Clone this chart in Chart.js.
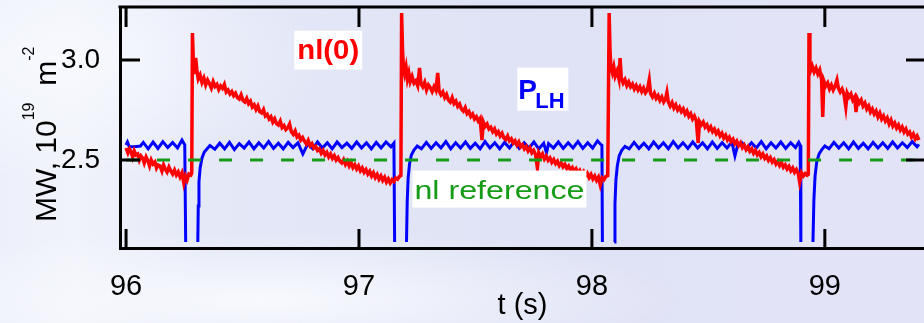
<!DOCTYPE html>
<html>
<head>
<meta charset="utf-8">
<script src="https://cdn.jsdelivr.net/npm/chart.js@4"></script>
<style>
    html, body {
        margin: 0;
        padding: 0;
        width: 924px;
        height: 323px;
        overflow: hidden;
    }
    body {
        background:
            radial-gradient(ellipse 260px 120px at 60px 60px, rgba(248, 250, 255, 0.85), rgba(248, 250, 255, 0)),
            radial-gradient(ellipse 420px 70px at 260px 300px, rgba(250, 251, 255, 0.9), rgba(250, 251, 255, 0)),
            linear-gradient(90deg, #edf0fa 0%, #f1f3fb 8%, #e4e8f7 22%, #dfe3f5 55%, #e3e3f7 100%);
    }
    #wrap {
        position: absolute;
        left: 0;
        top: 0;
        width: 930px;
        height: 323px;
    }
</style>
</head>
<body>
<div id="wrap"><canvas id="chart" width="930" height="323"></canvas></div>
<script>
// Tick positions on the axes.
const xTicks = [96, 97, 98, 99];
const yTicks = [2.5, 3.0];

// nl(0) central density trace, [t (s), 10^19 m^-2].
const nlTrace = [
    [96.000, 2.560], [96.008, 2.535], [96.015, 2.555], [96.022, 2.540], [96.028, 2.515], [96.035, 2.545],
    [96.042, 2.525], [96.050, 2.530], [96.057, 2.500], [96.064, 2.520], [96.071, 2.510], [96.078, 2.485],
    [96.086, 2.515], [96.094, 2.495], [96.101, 2.470], [96.108, 2.500], [96.116, 2.480], [96.124, 2.490],
    [96.131, 2.460], [96.138, 2.475], [96.146, 2.470], [96.154, 2.445], [96.161, 2.475], [96.168, 2.455],
    [96.176, 2.440], [96.184, 2.465], [96.192, 2.445], [96.200, 2.430], [96.208, 2.450], [96.216, 2.425],
    [96.224, 2.440], [96.232, 2.415], [96.240, 2.435], [96.248, 2.385], [96.255, 2.420], [96.262, 2.400],
    [96.270, 2.430], [96.278, 2.425], [96.282, 2.435], [96.285, 3.135], [96.289, 2.990], [96.294, 2.930],
    [96.299, 3.010], [96.304, 2.950], [96.310, 2.905], [96.318, 2.925], [96.326, 2.888], [96.334, 2.910],
    [96.342, 2.875], [96.350, 2.900], [96.358, 2.882], [96.366, 2.860], [96.374, 2.892], [96.382, 2.868],
    [96.390, 2.878], [96.398, 2.852], [96.406, 2.870], [96.414, 2.858], [96.422, 2.878], [96.430, 2.840],
    [96.438, 2.850], [96.446, 2.830], [96.454, 2.842], [96.462, 2.822], [96.470, 2.834], [96.478, 2.812],
    [96.486, 2.805], [96.494, 2.826], [96.502, 2.798], [96.510, 2.790], [96.518, 2.808], [96.526, 2.782],
    [96.534, 2.794], [96.542, 2.765], [96.550, 2.776], [96.558, 2.752], [96.566, 2.770], [96.574, 2.742],
    [96.582, 2.735], [96.590, 2.752], [96.598, 2.720], [96.606, 2.728], [96.614, 2.705], [96.622, 2.716],
    [96.630, 2.690], [96.638, 2.706], [96.646, 2.682], [96.654, 2.675], [96.662, 2.694], [96.670, 2.662],
    [96.678, 2.672], [96.686, 2.652], [96.694, 2.660], [96.702, 2.680], [96.710, 2.640], [96.718, 2.628],
    [96.726, 2.645], [96.734, 2.615], [96.742, 2.624], [96.750, 2.600], [96.758, 2.612], [96.766, 2.594],
    [96.774, 2.580], [96.782, 2.598], [96.790, 2.572], [96.798, 2.582], [96.806, 2.560], [96.814, 2.568],
    [96.822, 2.548], [96.830, 2.556], [96.838, 2.534], [96.846, 2.548], [96.854, 2.525], [96.862, 2.538],
    [96.870, 2.515], [96.878, 2.530], [96.886, 2.508], [96.894, 2.522], [96.902, 2.500], [96.910, 2.512],
    [96.918, 2.494], [96.926, 2.485], [96.934, 2.502], [96.942, 2.478], [96.950, 2.494], [96.958, 2.470],
    [96.966, 2.488], [96.974, 2.462], [96.982, 2.476], [96.990, 2.455], [96.998, 2.470], [97.006, 2.446],
    [97.014, 2.460], [97.022, 2.438], [97.030, 2.452], [97.038, 2.430], [97.046, 2.444], [97.054, 2.420],
    [97.062, 2.436], [97.070, 2.412], [97.078, 2.428], [97.086, 2.404], [97.094, 2.420], [97.102, 2.398],
    [97.110, 2.414], [97.118, 2.390], [97.126, 2.405], [97.134, 2.385], [97.142, 2.402], [97.150, 2.392],
    [97.158, 2.410], [97.166, 2.404], [97.174, 2.418], [97.180, 2.422], [97.183, 3.235], [97.187, 3.050],
    [97.191, 2.960], [97.196, 2.930], [97.202, 2.965], [97.208, 2.905], [97.214, 2.935], [97.220, 2.892],
    [97.228, 2.918], [97.236, 2.885], [97.244, 2.896], [97.252, 2.872], [97.260, 2.960], [97.266, 2.882],
    [97.274, 2.866], [97.282, 2.888], [97.290, 2.850], [97.298, 2.875], [97.306, 2.862], [97.314, 2.842],
    [97.322, 2.866], [97.330, 2.848], [97.338, 2.935], [97.344, 2.845], [97.352, 2.826], [97.360, 2.840],
    [97.368, 2.812], [97.376, 2.828], [97.384, 2.800], [97.392, 2.790], [97.400, 2.812], [97.408, 2.782],
    [97.416, 2.794], [97.424, 2.768], [97.432, 2.780], [97.440, 2.755], [97.448, 2.744], [97.456, 2.762],
    [97.464, 2.732], [97.472, 2.742], [97.480, 2.718], [97.488, 2.730], [97.496, 2.705], [97.504, 2.716],
    [97.512, 2.695], [97.520, 2.708], [97.528, 2.600], [97.534, 2.690], [97.542, 2.668], [97.550, 2.680],
    [97.558, 2.655], [97.566, 2.664], [97.574, 2.642], [97.582, 2.656], [97.590, 2.630], [97.598, 2.642],
    [97.606, 2.620], [97.614, 2.634], [97.622, 2.610], [97.630, 2.602], [97.638, 2.620], [97.646, 2.596],
    [97.654, 2.606], [97.662, 2.585], [97.670, 2.596], [97.678, 2.575], [97.686, 2.590], [97.694, 2.566],
    [97.702, 2.576], [97.710, 2.556], [97.718, 2.568], [97.726, 2.545], [97.734, 2.560], [97.742, 2.536],
    [97.750, 2.548], [97.758, 2.528], [97.766, 2.460], [97.772, 2.535], [97.780, 2.515], [97.788, 2.530],
    [97.796, 2.505], [97.804, 2.520], [97.812, 2.498], [97.820, 2.510], [97.828, 2.488], [97.836, 2.502],
    [97.844, 2.482], [97.852, 2.494], [97.860, 2.472], [97.868, 2.486], [97.876, 2.466], [97.884, 2.478],
    [97.892, 2.458], [97.900, 2.470], [97.908, 2.450], [97.916, 2.462], [97.924, 2.442], [97.932, 2.456],
    [97.940, 2.436], [97.948, 2.448], [97.956, 2.428], [97.964, 2.442], [97.972, 2.420], [97.980, 2.434],
    [97.988, 2.412], [97.996, 2.428], [98.004, 2.405], [98.012, 2.420], [98.020, 2.398], [98.028, 2.414],
    [98.036, 2.375], [98.044, 2.410], [98.052, 2.402], [98.060, 2.418], [98.068, 2.422], [98.074, 3.235],
    [98.078, 3.040], [98.082, 2.960], [98.088, 2.935], [98.094, 2.965], [98.100, 2.920], [98.108, 2.945],
    [98.116, 2.905], [98.121, 3.010], [98.126, 2.912], [98.134, 2.885], [98.142, 2.902], [98.150, 2.872],
    [98.158, 2.890], [98.166, 2.866], [98.174, 2.880], [98.182, 2.855], [98.190, 2.872], [98.198, 2.850],
    [98.206, 2.866], [98.214, 2.842], [98.222, 2.860], [98.230, 2.836], [98.238, 2.850], [98.246, 2.900],
    [98.252, 2.832], [98.260, 2.815], [98.268, 2.834], [98.276, 2.808], [98.284, 2.822], [98.292, 2.798],
    [98.300, 2.815], [98.308, 2.790], [98.316, 2.806], [98.322, 2.838], [98.328, 2.790], [98.336, 2.770],
    [98.344, 2.788], [98.352, 2.760], [98.360, 2.776], [98.368, 2.750], [98.376, 2.764], [98.384, 2.742],
    [98.392, 2.756], [98.400, 2.730], [98.408, 2.745], [98.416, 2.718], [98.424, 2.732], [98.432, 2.705],
    [98.440, 2.720], [98.448, 2.698], [98.456, 2.585], [98.462, 2.692], [98.470, 2.676], [98.478, 2.690],
    [98.486, 2.664], [98.494, 2.676], [98.502, 2.652], [98.510, 2.666], [98.518, 2.642], [98.526, 2.655],
    [98.534, 2.632], [98.542, 2.645], [98.550, 2.620], [98.558, 2.634], [98.566, 2.610], [98.574, 2.624],
    [98.582, 2.600], [98.590, 2.614], [98.598, 2.592], [98.606, 2.604], [98.614, 2.582], [98.622, 2.595],
    [98.630, 2.572], [98.638, 2.586], [98.646, 2.562], [98.654, 2.575], [98.662, 2.552], [98.670, 2.566],
    [98.678, 2.544], [98.686, 2.556], [98.694, 2.534], [98.702, 2.548], [98.710, 2.526], [98.718, 2.538],
    [98.726, 2.516], [98.734, 2.530], [98.742, 2.508], [98.750, 2.520], [98.758, 2.498], [98.766, 2.512],
    [98.774, 2.490], [98.782, 2.502], [98.790, 2.480], [98.798, 2.494], [98.806, 2.472], [98.814, 2.486],
    [98.822, 2.464], [98.830, 2.476], [98.838, 2.455], [98.846, 2.468], [98.854, 2.446], [98.862, 2.460],
    [98.870, 2.438], [98.878, 2.452], [98.886, 2.432], [98.892, 2.390], [98.900, 2.436], [98.908, 2.420],
    [98.916, 2.432], [98.924, 2.424], [98.929, 2.428], [98.932, 3.135], [98.936, 2.990], [98.940, 2.950],
    [98.946, 2.970], [98.954, 2.940], [98.962, 2.960], [98.970, 2.930], [98.978, 2.950], [98.986, 2.900],
    [98.991, 2.715], [98.996, 2.895], [99.004, 2.870], [99.012, 2.885], [99.020, 2.855], [99.028, 2.875],
    [99.036, 2.850], [99.044, 2.870], [99.052, 2.900], [99.058, 2.860], [99.066, 2.840], [99.074, 2.855],
    [99.082, 2.830], [99.090, 2.765], [99.096, 2.835], [99.104, 2.815], [99.112, 2.830], [99.120, 2.800],
    [99.128, 2.815], [99.134, 2.740], [99.140, 2.805], [99.148, 2.785], [99.156, 2.800], [99.164, 2.770],
    [99.172, 2.785], [99.180, 2.755], [99.188, 2.770], [99.196, 2.740], [99.204, 2.755], [99.212, 2.730],
    [99.220, 2.745], [99.228, 2.715], [99.236, 2.735], [99.244, 2.705], [99.252, 2.720], [99.260, 2.695],
    [99.268, 2.710], [99.276, 2.680], [99.284, 2.700], [99.292, 2.670], [99.300, 2.685], [99.308, 2.660],
    [99.316, 2.675], [99.324, 2.650], [99.332, 2.665], [99.340, 2.640], [99.348, 2.655], [99.356, 2.630],
    [99.364, 2.640], [99.372, 2.615], [99.380, 2.630], [99.388, 2.605], [99.396, 2.620], [99.404, 2.600]
];

// P_LH lower hybrid power trace, [t (s), MW]; null marks where it leaves the frame.
const plhTrace = [
    [96.000, 2.575], [96.006, 2.590], [96.014, 2.566], [96.030, 2.566], [96.046, 2.568], [96.062, 2.570],
    [96.074, 2.588], [96.095, 2.556], [96.116, 2.590], [96.137, 2.558], [96.158, 2.592], [96.179, 2.562],
    [96.200, 2.588], [96.221, 2.560], [96.240, 2.600], [96.252, 2.575], [96.256, 2.090], [96.280, null],
    [96.308, 2.090], [96.310, 2.270], [96.313, 2.390], [96.318, 2.460], [96.326, 2.510], [96.336, 2.540],
    [96.348, 2.556], [96.360, 2.572], [96.381, 2.554], [96.402, 2.584], [96.423, 2.556], [96.444, 2.588],
    [96.465, 2.552], [96.486, 2.582], [96.507, 2.560], [96.528, 2.590], [96.549, 2.556], [96.570, 2.586],
    [96.591, 2.560], [96.612, 2.592], [96.633, 2.558], [96.654, 2.584], [96.675, 2.556], [96.696, 2.588],
    [96.717, 2.562], [96.738, 2.586], [96.759, 2.530], [96.780, 2.580], [96.801, 2.556], [96.822, 2.590],
    [96.843, 2.560], [96.864, 2.586], [96.885, 2.556], [96.906, 2.590], [96.927, 2.562], [96.948, 2.584],
    [96.969, 2.558], [96.990, 2.590], [97.011, 2.560], [97.032, 2.586], [97.053, 2.556], [97.074, 2.588],
    [97.095, 2.560], [97.116, 2.590], [97.137, 2.566], [97.150, 2.584], [97.153, 2.090], [97.180, null],
    [97.204, 2.090], [97.207, 2.290], [97.211, 2.410], [97.217, 2.480], [97.225, 2.525], [97.236, 2.550],
    [97.250, 2.570], [97.268, 2.556], [97.289, 2.588], [97.310, 2.558], [97.331, 2.586], [97.352, 2.560],
    [97.373, 2.592], [97.394, 2.556], [97.415, 2.586], [97.436, 2.560], [97.457, 2.590], [97.478, 2.558],
    [97.499, 2.584], [97.520, 2.556], [97.541, 2.592], [97.562, 2.560], [97.583, 2.586], [97.604, 2.556],
    [97.625, 2.588], [97.646, 2.560], [97.667, 2.592], [97.688, 2.558], [97.709, 2.586], [97.730, 2.560],
    [97.751, 2.590], [97.772, 2.556], [97.793, 2.584], [97.805, 2.535], [97.814, 2.582], [97.835, 2.560],
    [97.856, 2.590], [97.877, 2.558], [97.898, 2.586], [97.919, 2.560], [97.940, 2.592], [97.961, 2.558],
    [97.982, 2.586], [98.003, 2.560], [98.024, 2.596], [98.038, 2.578], [98.043, 2.574], [98.045, 2.090],
    [98.070, null], [98.096, 2.090], [98.099, 2.280], [98.103, 2.400], [98.109, 2.470], [98.117, 2.520],
    [98.128, 2.548], [98.142, 2.568], [98.160, 2.556], [98.181, 2.588], [98.202, 2.558], [98.223, 2.584],
    [98.244, 2.556], [98.265, 2.590], [98.286, 2.560], [98.307, 2.586], [98.328, 2.556], [98.349, 2.592],
    [98.370, 2.560], [98.391, 2.586], [98.412, 2.558], [98.433, 2.590], [98.454, 2.560], [98.475, 2.586],
    [98.496, 2.556], [98.517, 2.590], [98.538, 2.558], [98.559, 2.586], [98.580, 2.560], [98.601, 2.590],
    [98.614, 2.520], [98.626, 2.575], [98.643, 2.588], [98.664, 2.558], [98.685, 2.586], [98.706, 2.560],
    [98.727, 2.592], [98.748, 2.556], [98.769, 2.586], [98.790, 2.560], [98.811, 2.590], [98.832, 2.558],
    [98.853, 2.586], [98.874, 2.562], [98.888, 2.588], [98.894, 2.574], [98.897, 2.090], [98.920, null],
    [98.949, 2.090], [98.953, 2.300], [98.958, 2.420], [98.965, 2.490], [98.975, 2.530], [98.987, 2.552],
    [99.000, 2.570], [99.018, 2.556], [99.039, 2.588], [99.060, 2.560], [99.081, 2.586], [99.102, 2.556],
    [99.123, 2.590], [99.144, 2.558], [99.165, 2.584], [99.186, 2.556], [99.207, 2.588], [99.228, 2.560],
    [99.249, 2.586], [99.270, 2.558], [99.291, 2.590], [99.312, 2.560], [99.333, 2.586], [99.354, 2.562],
    [99.375, 2.592], [99.396, 2.566], [99.404, 2.578]
];

// Density reference level.
const nlReference = [[96.0, 2.5], [99.45, 2.5]];

// Text labels written onto the plot, anchored at [t, value].
const plotLabels = [
    { text: 'nl(0)', at: [96.868, 3.052], color: '#ff0000' },
    { text: 'P', sub: 'LH', at: [97.787, 2.857], color: '#0000ff' },
    { text: 'nl reference', at: [97.603, 2.357], color: '#169b16' }
];

const FONT = '"Liberation Sans", Arial, Helvetica, sans-serif';

const toXY = trace => trace.map(([t, v]) => ({ x: t, y: v }));

// Frame: top line and inward tick marks on all four sides.
const frameTicks = {
    id: 'frameTicks',
    afterDatasetsDraw(chart) {
        const { ctx, chartArea: a, scales: { x, y } } = chart;
        ctx.save();
        ctx.strokeStyle = '#000';
        ctx.lineWidth = 3;
        ctx.beginPath();
        ctx.moveTo(a.left - 1.5, a.top);
        ctx.lineTo(a.right + 10, a.top);
        xTicks.forEach(v => {
            const px = x.getPixelForValue(v);
            ctx.moveTo(px, a.bottom);
            ctx.lineTo(px, a.bottom - 19);
            ctx.moveTo(px, a.top);
            ctx.lineTo(px, a.top + 20);
        });
        yTicks.forEach(v => {
            const py = y.getPixelForValue(v);
            ctx.moveTo(a.left, py);
            ctx.lineTo(a.left + 20, py);
            ctx.moveTo(a.right, py);
            ctx.lineTo(a.right - 19, py);
        });
        ctx.stroke();
        ctx.restore();
    }
};

// White-boxed labels inside the plot.
const boxedLabels = {
    id: 'boxedLabels',
    afterDatasetsDraw(chart) {
        const { ctx, scales: { x, y } } = chart;
        ctx.save();
        ctx.textBaseline = 'alphabetic';
        plotLabels.forEach(lab => {
            const cx = x.getPixelForValue(lab.at[0]);
            const cy = y.getPixelForValue(lab.at[1]);
            ctx.fillStyle = '#ffffff';
            if (lab.text === 'nl(0)') {
                ctx.fillRect(cx - 34, cy - 19, 68, 39);
                ctx.font = 'bold 27px ' + FONT;
                const w = ctx.measureText(lab.text).width;
                ctx.save();
                ctx.translate(cx, cy + 9);
                ctx.scale(62 / w, 1);
                ctx.fillStyle = lab.color;
                ctx.textAlign = 'center';
                ctx.fillText(lab.text, 0, 0);
                ctx.restore();
            } else if (lab.sub) {
                ctx.fillRect(cx - 25, cy - 21, 51, 43);
                ctx.fillStyle = lab.color;
                ctx.textAlign = 'left';
                ctx.font = 'bold 28px ' + FONT;
                ctx.fillText(lab.text, cx - 24, cy + 10);
                ctx.font = 'bold 22px ' + FONT;
                ctx.fillText(lab.sub, cx - 7, cy + 19);
            } else {
                ctx.fillRect(cx - 87, cy - 18, 174, 37);
                ctx.font = '26px ' + FONT;
                const w = ctx.measureText(lab.text).width;
                ctx.save();
                ctx.translate(cx, cy + 10);
                ctx.scale(170 / w, 1);
                ctx.fillStyle = lab.color;
                ctx.textAlign = 'center';
                ctx.fillText(lab.text, 0, 0);
                ctx.restore();
            }
        });
        ctx.restore();
    }
};

// Rotated y title with superscripts: MW, 10^19 m^-2
const yTitle = {
    id: 'yTitle',
    afterDraw(chart) {
        const { ctx, chartArea: a } = chart;
        ctx.save();
        ctx.translate(56, a.bottom - 26);
        ctx.rotate(-Math.PI / 2);
        ctx.fillStyle = '#000';
        ctx.textAlign = 'left';
        ctx.textBaseline = 'alphabetic';
        let pos = 0;
        const piece = (txt, size, rise) => {
            ctx.font = size + 'px ' + FONT;
            ctx.fillText(txt, pos, -rise);
            pos += ctx.measureText(txt).width;
        };
        piece('MW, 10', 30, 0);
        piece('19', 16, 22);
        piece('  m', 30, 0);
        piece('-2', 16, 22);
        ctx.restore();
    }
};

const chart = new Chart(document.getElementById('chart'), {
    type: 'line',
    data: {
        datasets: [
            {
                label: 'nl reference',
                data: toXY(nlReference),
                borderColor: '#169b16',
                borderWidth: 3,
                borderDash: [13, 18],
                pointRadius: 0,
                order: 0
            },
            {
                label: 'nl(0)',
                data: toXY(nlTrace),
                borderColor: '#ff0000',
                borderWidth: 3.5,
                pointRadius: 0,
                tension: 0,
                order: 1
            },
            {
                label: 'PLH',
                data: toXY(plhTrace),
                borderColor: '#0000ff',
                borderWidth: 3,
                pointRadius: 0,
                tension: 0,
                spanGaps: false,
                order: 2
            }
        ]
    },
    options: {
        responsive: false,
        animation: false,
        devicePixelRatio: 1,
        layout: { padding: { top: 7, right: 5, left: 0, bottom: 0 } },
        plugins: {
            legend: { display: false },
            tooltip: { enabled: false }
        },
        scales: {
            x: {
                type: 'linear',
                position: 'bottom',
                min: 95.974,
                max: 99.43,
                afterBuildTicks: s => { s.ticks = xTicks.map(v => ({ value: v })); },
                afterFit: s => {
                    s.height = 75;
                    s.paddingLeft = 0;
                    s.paddingRight = 0;
                },
                grid: { display: false },
                border: { display: true, color: '#000', width: 3 },
                ticks: {
                    color: '#000',
                    font: { family: FONT, size: 29 },
                    padding: 14,
                    maxRotation: 0,
                    autoSkip: false,
                    callback: v => String(v)
                },
                title: {
                    display: true,
                    text: 't (s)',
                    color: '#000',
                    font: { family: FONT, size: 29 },
                    padding: { top: 0, bottom: 0 }
                }
            },
            y: {
                type: 'linear',
                min: 2.06,
                max: 3.265,
                afterBuildTicks: s => { s.ticks = yTicks.map(v => ({ value: v })); },
                afterFit: s => {
                    s.width = 120;
                    s.paddingTop = 0;
                    s.paddingBottom = 0;
                },
                grid: { display: false },
                border: { display: true, color: '#000', width: 3 },
                ticks: {
                    color: '#000',
                    font: { family: FONT, size: 28 },
                    padding: 12,
                    callback: v => Number(v).toFixed(1)
                }
            }
        }
    },
    plugins: [frameTicks, boxedLabels, yTitle]
});
</script>
</body>
</html>
